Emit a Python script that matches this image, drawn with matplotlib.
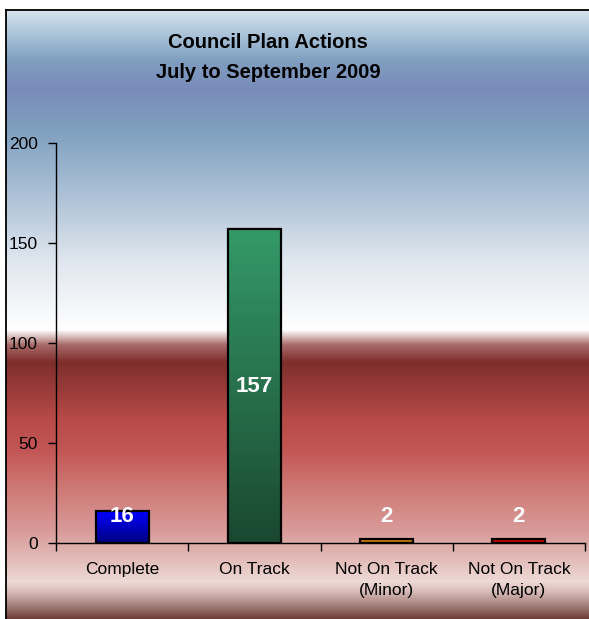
import numpy as np
import matplotlib
matplotlib.use('Agg')
from matplotlib import pyplot as plt
from matplotlib.colors import LinearSegmentedColormap, to_rgb

categories = ['Complete', 'On Track', 'Not On Track\n(Minor)', 'Not On Track\n(Major)']
values = [16, 157, 2, 2]
y_ticks = [0, 50, 100, 150, 200]
title = 'Council Plan Actions\nJuly to September 2009'

# top / bottom colours of each bar's vertical gradient
bar_colours = [('#0000ff', '#000080'), ('#349a68', '#1a4830'),
               ('#d88a10', '#b86a00'), ('#d40000', '#a00000')]

# background gradient stops (pixel row, colour)
bg_stops = [
    (10, '#d6e4ef'), (35, '#a9c2d8'), (60, '#7f9fc0'), (88, '#7a8cba'),
    (130, '#7fa0bf'), (200, '#b0c4d8'), (260, '#dfe6ee'), (315, '#f8f9fb'),
    (330, '#ffffff'), (345, '#a86a68'), (362, '#7e2e2c'), (420, '#b84b48'),
    (450, '#c25654'), (490, '#cf7a76'), (530, '#d89a98'), (560, '#e2bcb8'),
    (582, '#eedad6'), (592, '#d8bcb8'), (605, '#a88480'), (619, '#6e3e38'),
]

W, H = 589, 619
plt.rcParams['font.family'] = ['Liberation Sans', 'DejaVu Sans']

fig = plt.figure(figsize=(W / 100, H / 100), dpi=100)

# background panel
bg = fig.add_axes([0, 0, 1, 1])
rows = np.arange(10, H + 1)
stop_y = [s[0] for s in bg_stops]
stop_rgb = np.array([to_rgb(s[1]) for s in bg_stops])
img = np.stack([np.interp(rows, stop_y, stop_rgb[:, c]) for c in range(3)], axis=-1)
img = img[:, None, :]
bg.imshow(img, extent=[6, W, H, 10], aspect='auto', interpolation='bilinear')
bg.plot([6, 6], [10, H], color='black', lw=1.3)
bg.plot([6, W], [10, 10], color='black', lw=1.3)
bg.set_xlim(0, W)
bg.set_ylim(H, 0)
bg.axis('off')

fig.text(268 / W, 1 - 57.5 / H, title, ha='center', va='center',
         fontsize=14.5, fontweight='bold', linespacing=1.7)

# chart area
ax = fig.add_axes([56 / W, 1 - 543 / H, (585 - 56) / W, 400 / H])
ax.patch.set_alpha(0)
x = np.arange(len(categories))
bars = ax.bar(x, values, width=0.4, facecolor='none', edgecolor='black',
              linewidth=1.6, zorder=3)
grad = np.linspace(0, 1, 256).reshape(-1, 1)
for rect, (top, bottom) in zip(bars, bar_colours):
    x0, w, h = rect.get_x(), rect.get_width(), rect.get_height()
    cmap = LinearSegmentedColormap.from_list('bar', [top, bottom])
    im = ax.imshow(grad, extent=[x0, x0 + w, 0, h], origin='upper', cmap=cmap,
                   aspect='auto', zorder=2)
    im.set_clip_path(rect)

for xi, v in zip(x, values):
    ax.text(xi, max(v / 2, 13), str(v), ha='center', va='center', color='white',
            fontsize=16, fontweight='bold', zorder=4)

ax.set_xlim(-0.5, len(categories) - 0.5)
ax.set_ylim(0, 200)
ax.set_yticks(y_ticks)
ax.tick_params(axis='y', direction='out', length=6, width=1, labelsize=12.5, pad=7)
ax.set_xticks(x)
ax.set_xticklabels(categories, fontsize=12.5, linespacing=1.45)
ax.tick_params(axis='x', which='major', length=0, pad=14)
ax.set_xticks(np.arange(-0.5, len(categories)), minor=True)
ax.tick_params(axis='x', which='minor', direction='out', length=6, width=1)
for side in ('top', 'right'):
    ax.spines[side].set_visible(False)
for side in ('left', 'bottom'):
    ax.spines[side].set_linewidth(1)

fig.savefig('out.png', dpi=100)
